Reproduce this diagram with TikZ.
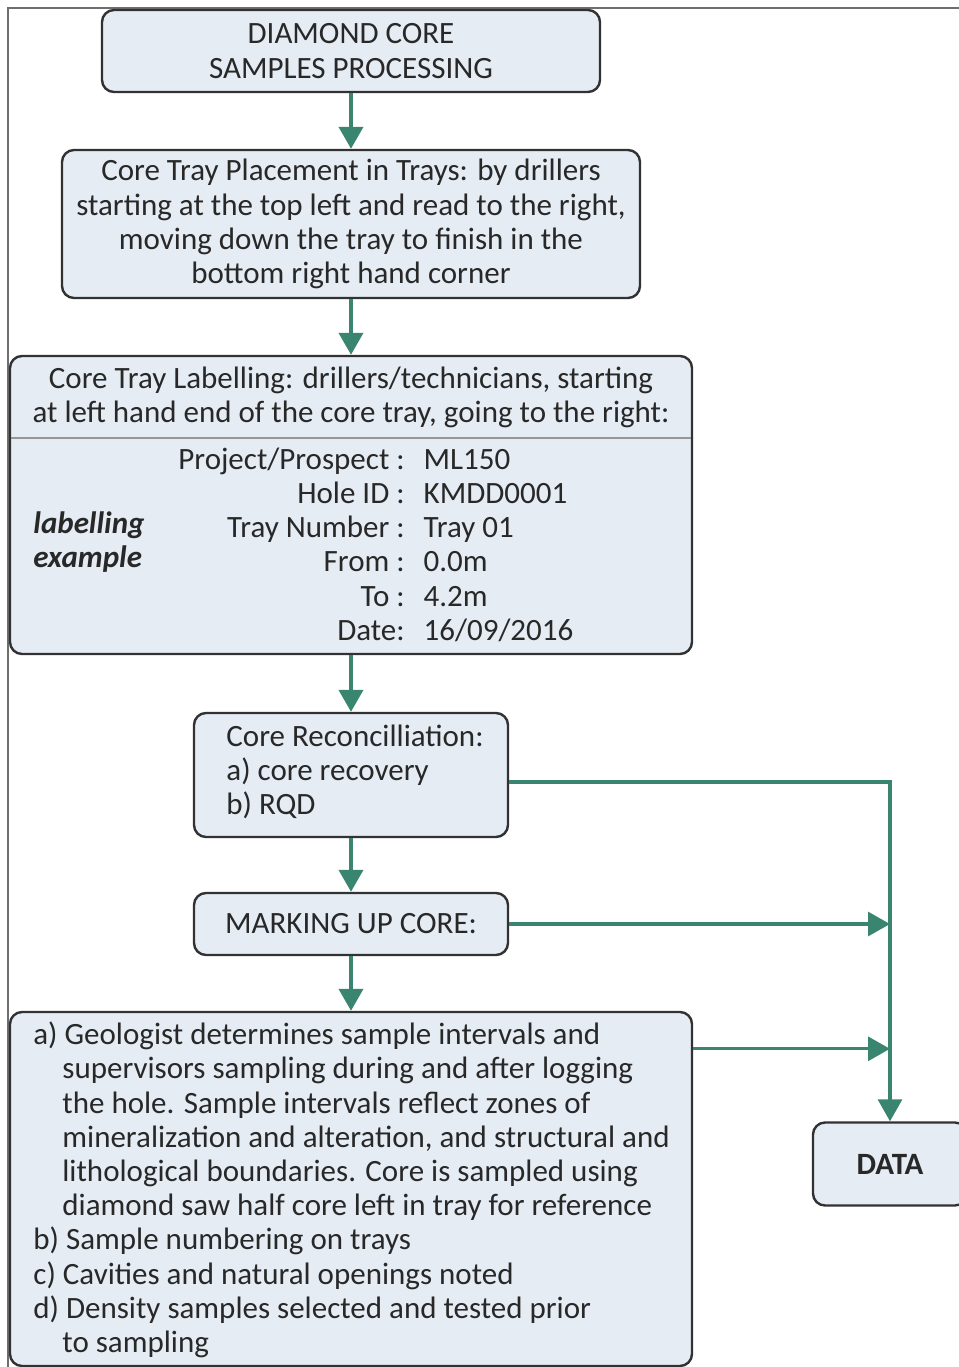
\documentclass[tikz,border=0pt]{standalone}
\usepackage{fontspec}
\setmainfont{Carlito}
\usepackage{tikz}
\usetikzlibrary{arrows.meta, positioning, calc}
\definecolor{myteal}{RGB}{58,133,112}
\definecolor{mydark}{RGB}{50,50,50}
\definecolor{mytext}{RGB}{40,40,40}
\definecolor{hdrblue}{RGB}{229,236,244}
\definecolor{mygrey}{RGB}{150,150,150}
\definecolor{myframe}{RGB}{110,110,110}
\newcommand{\boxfont}{\fontsize{15.5}{17.1}\selectfont}
\newcommand{\subln}{\hspace*{14.5pt}}
\tikzset{
  block/.style={rectangle, draw=mydark, fill=hdrblue, align=center,
    font=\boxfont, text=mytext, rounded corners=6pt, line width=1.2pt,
    inner sep=0pt},
  txt/.style={inner sep=0pt, font=\boxfont, text=mytext},
  arrow/.style={-{Triangle[width=12pt,length=11pt]}, line width=2pt, color=myteal},
  sidearrow/.style={-{Triangle[width=12pt,length=11pt]}, line width=1.6pt, color=myteal},
  sepline/.style={line width=0.8pt, color=mygrey},
  frameline/.style={line width=1pt, color=myframe}
}

\begin{document}
\begin{tikzpicture}[x=0.5pt, y=-0.5pt]
  \clip (0,0) rectangle (959,1367);
  % outer frame
  \draw[frameline] (8,1367) -- (8,8) -- (959,8);

  % main column
  \node[block, minimum width=249pt, minimum height=41pt] (title) at (351,51) {DIAMOND CORE\\SAMPLES PROCESSING};
  \node[block, minimum width=289pt, minimum height=74pt] (place) at (351,224) {Core Tray Placement in Trays: by drillers\\starting at the top left and read to the right,\\moving down the tray to finish in the\\bottom right hand corner};

  % labelling box
  \node[block, minimum width=341pt, minimum height=149pt] (label) at (351,505) {};
  \node[txt, align=center] (lblhead) at (351,397) {Core Tray Labelling: drillers/technicians, starting\\at left hand end of the core tray, going to the right:};
  \coordinate (cut) at (0,438);
  \draw[sepline, shorten <=1pt, shorten >=1pt] (label.west |- cut) -- (label.east |- cut);
  \node[txt, anchor=west, font=\boxfont\bfseries\itshape, align=left] (lblnote) at (33,542) {labelling\\example};
  \node[txt, anchor=west] (fields) at (178,548) {\begin{tabular}{@{}r@{\hspace{9.5pt}}l@{}}
    Project/Prospect : & ML150\\
    Hole ID : & KMDD0001\\
    Tray Number : & Tray 01\\
    From : & 0.0m\\
    To : & 4.2m\\
    Date: & 16/09/2016
  \end{tabular}};

  % reconciliation and marking
  \node[block, minimum width=157pt, minimum height=62pt] (recon) at (351,775) {};
  \node[txt, anchor=west, align=left] (recontext) at (226,772) {Core Reconcilliation:\\a) core recovery\\b) RQD};
  \node[block, minimum width=157pt, minimum height=31pt] (mark) at (351,924) {MARKING UP CORE:};

  % sampling box
  \node[block, minimum width=341pt, minimum height=177pt] (sample) at (351,1189) {};
  \node[txt, anchor=west, align=left] (sampletext) at (33,1190) {a) Geologist determines sample intervals and\\
    \subln supervisors sampling during and after logging\\
    \subln the hole. Sample intervals reflect zones of\\
    \subln mineralization and alteration, and structural and\\
    \subln lithological boundaries. Core is sampled using\\
    \subln diamond saw half core left in tray for reference\\
    b) Sample numbering on trays\\
    c) Cavities and natural openings noted\\
    d) Density samples selected and tested prior\\
    \subln to sampling};

  \node[block, minimum width=77pt, minimum height=41.5pt, font=\boxfont\bfseries] (data) at (890,1164) {DATA};

  % arrows down the column
  \draw[arrow] (title) -- (place);
  \draw[arrow] (place) -- (label);
  \draw[arrow] (label) -- (recon);
  \draw[arrow] (recon) -- (mark);
  \draw[arrow] (mark) -- (sample);

  % arrows to data
  \coordinate (reconout) at ([yshift=-3.5pt]recon.east);
  \coordinate (sampleout) at ([yshift=-19pt]sample.north east);
  \draw[sidearrow] (reconout) -| (data);
  \draw[sidearrow] (mark) -- (mark -| data);
  \draw[sidearrow] (sampleout) -- (sampleout -| data);
\end{tikzpicture}
\end{document}
